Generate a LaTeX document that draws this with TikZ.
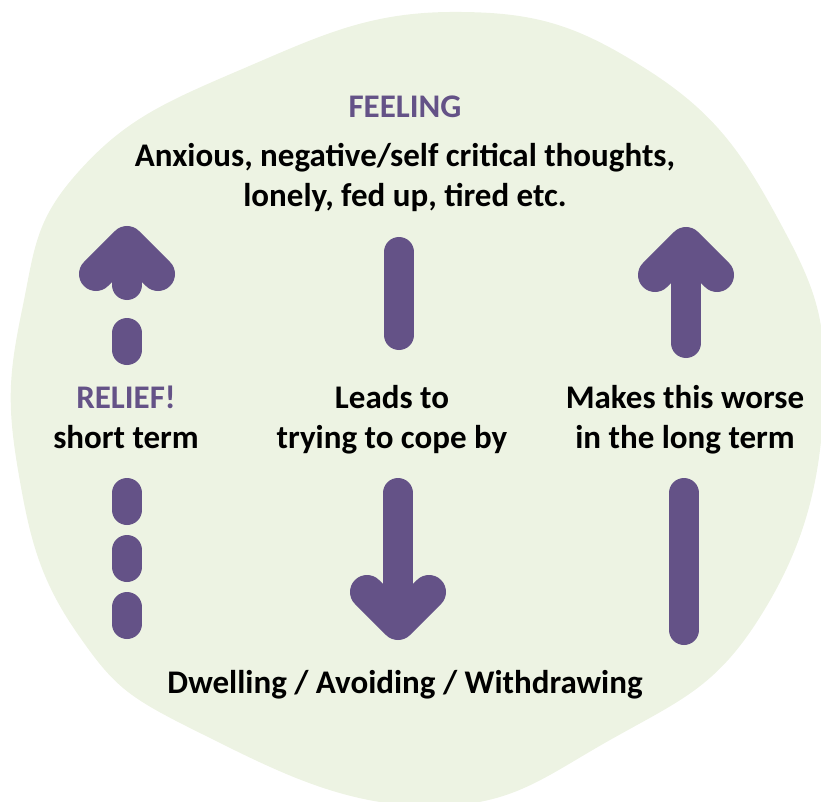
\documentclass[tikz,border=0pt]{standalone}
\usepackage{fontspec}
\setmainfont{Carlito}
\usepackage{tikz}
\usetikzlibrary{calc,positioning}
\definecolor{cbtpurple}{RGB}{100,82,135}
\definecolor{cbtgreen}{RGB}{237,243,227}
\tikzset{
	txt/.style={font=\bfseries\fontsize{33}{40}\selectfont, align=center, anchor=base, inner sep=0pt},
	heading/.style={txt, text=cbtpurple},
	bar/.style={draw=cbtpurple, line width=30pt, line cap=round, line join=round},
	head/.style={bar, line width=34pt}
}

\begin{document}
\begin{tikzpicture}[x=1pt,y=-1pt]
    \useasboundingbox (0,0) rectangle (821,802);
    \clip (0,0) rectangle (821,802);
    \fill[cbtgreen] plot[smooth cycle, tension=0.75] coordinates {
        (450,12) (643,67) (777,217) (824,400) (760,617) (610,740)
        (425,806) (200,733) (77,633) (18,470) (22,310) (80,170) (240,70)};

    % base anchor sits on the last line
    \node[heading] (feel) at (405,118) {FEELING};
    \node[txt] (thoughts) at (405,207) {Anxious, negative/self critical thoughts,\\lonely, fed up, tired etc.};
    \node[txt] (relief) at (126,448) {\textcolor{cbtpurple}{RELIEF!}\\short term};
    \node[txt] (leads) at (392,448) {Leads to\\trying to cope by};
    \node[txt] (worse) at (685,448) {Makes this worse\\in the long term};
    \node[txt] (dwell) at (405,693) {Dwelling / Avoiding / Withdrawing};

    % short term relief (dashed, up)
    \coordinate (ltip) at (127,243);
    \draw[bar] (127,285) -- (ltip);
    \draw[head] ($(ltip)+(-31,31)$) -- (ltip) -- ($(ltip)+(31,31)$);
    \draw[bar] (127,333) -- (127,350);
    \foreach \y in {493,550,607}
        \draw[bar] (127,\y) -- (127,\y+17);

    % coping (down)
    \coordinate (mtip) at (398,623);
    \draw[bar] (399,252) -- (399,335);
    \draw[bar] (398,493) -- (mtip);
    \draw[head] ($(mtip)+(-31,-31)$) -- (mtip) -- ($(mtip)+(31,-31)$);

    % long term (up)
    \coordinate (rtip) at (686,244);
    \draw[bar] (686,343) -- (rtip);
    \draw[head] ($(rtip)+(-31,31)$) -- (rtip) -- ($(rtip)+(31,31)$);
    \draw[bar] (684,493) -- (684,630);
\end{tikzpicture}
\end{document}
